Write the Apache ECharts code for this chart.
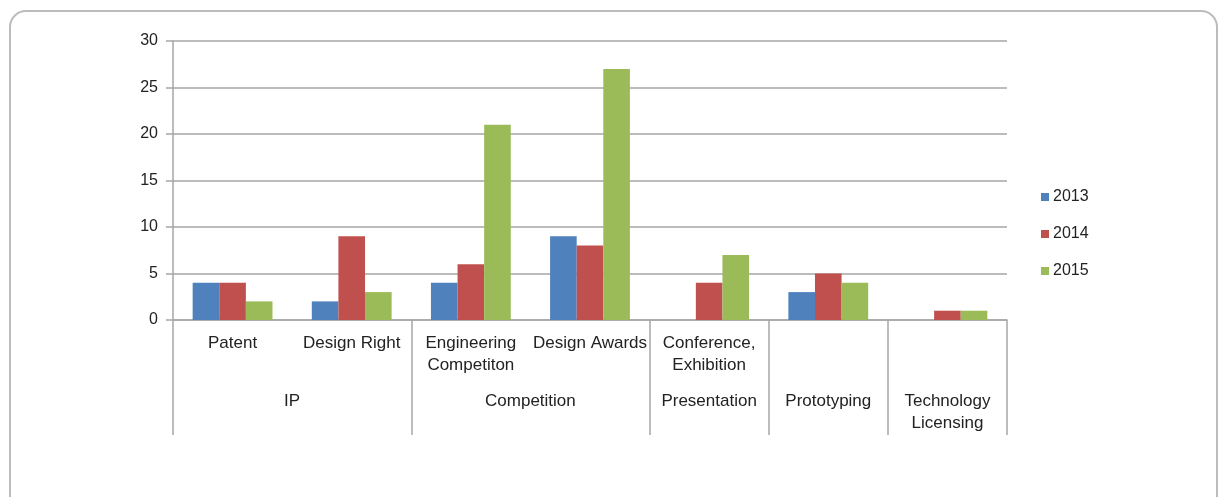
<!DOCTYPE html>
<html>
<head>
<meta charset="utf-8">
<script src="https://cdn.jsdelivr.net/npm/echarts@6/dist/echarts.min.js"></script>
<style>
html, body { margin: 0; padding: 0; background: #fff; }
#main { width: 1219px; height: 497px; }
</style>
</head>
<body>
<div id="main"></div>
<script>
var categories = ['Patent', 'Design Right', 'Engineering\nCompetiton', 'Design Awards',
	'Conference,\nExhibition', 'Prototyping', 'Technology\nLicensing'];
var groupNames = ['IP', 'Competition', 'Presentation', 'Prototyping', 'Technology\nLicensing'];
var groupSpans = [2, 2, 1, 1, 1];
// the last two groups have no sub-label of their own
var shownCategories = ['Patent', 'Design Right', 'Engineering\nCompetiton', 'Design Awards',
	'Conference,\nExhibition', '', ''];
var years = ['2013', '2014', '2015'];
var values2013 = [4, 2, 4, 9, 0, 3, 0];
var values2014 = [4, 9, 6, 8, 4, 5, 1];
var values2015 = [2, 3, 21, 27, 7, 4, 1];
var yTicks = [0, 5, 10, 15, 20, 25, 30];

// half-step slots so group labels land on the middle of their span
var slots = [];
var labelAt = {};
var tickAt = {0: true};
var pos = 0;
for (var g = 0; g < groupNames.length; g++) {
	labelAt[pos + groupSpans[g]] = groupNames[g];
	pos += groupSpans[g] * 2;
	tickAt[pos] = true;
}
for (var s = 0; s <= categories.length * 2; s++) {
	slots.push(labelAt[s] || '');
}

var myChart = echarts.init(document.getElementById('main'));
var textFont = 'Liberation Sans, Arial, sans-serif';
option = {
	backgroundColor: '#fff',
	textStyle: { fontFamily: textFont },
	graphic: [
		{
			type: 'rect',
			shape: { x: 10, y: 11, width: 1207, height: 505, r: 16 },
			style: { fill: 'none', stroke: '#bcbcbc', lineWidth: 2 },
			silent: true
		}
	],
	legend: {
		data: years,
		orient: 'vertical',
		left: 1036,
		top: 184,
		itemWidth: 8,
		itemHeight: 8,
		itemGap: 21,
		icon: 'rect',
		textStyle: { fontSize: 16, color: '#222', fontFamily: textFont, padding: [0, 0, 0, -1] }
	},
	grid: {
		left: 173,
		right: 212,
		top: 41,
		bottom: 177
	},
	xAxis: [
		{
			type: 'category',
			data: categories,
			axisLine: { lineStyle: { color: '#a6a6a6', width: 1.5 } },
			axisTick: { length: 58, interval: 0, lineStyle: { color: '#a6a6a6', width: 1.5 } },
			axisLabel: {
				interval: 0,
				margin: 12,
				fontSize: 17,
				lineHeight: 22,
				color: '#222',
				fontFamily: textFont,
				formatter: function (v, i) { return shownCategories[i]; }
			}
		},
		{
			type: 'category',
			data: slots,
			boundaryGap: false,
			position: 'bottom',
			axisLine: { show: false },
			axisTick: {
				length: 115,
				interval: function (i) { return !!tickAt[i]; },
				lineStyle: { color: '#a6a6a6', width: 1.5 }
			},
			axisLabel: {
				interval: 0,
				margin: 70,
				fontSize: 17,
				lineHeight: 22,
				color: '#222',
				fontFamily: textFont
			}
		}
	],
	yAxis: [
		{
			type: 'value',
			min: yTicks[0],
			max: yTicks[yTicks.length - 1],
			interval: 5,
			axisLine: { show: true, lineStyle: { color: '#a6a6a6', width: 1.5 } },
			axisTick: { show: true, length: 7, lineStyle: { color: '#a6a6a6', width: 1.5 } },
			splitLine: { lineStyle: { color: '#a6a6a6', width: 1.5 } },
			axisLabel: { margin: 15, fontSize: 16, color: '#222', fontFamily: textFont }
		}
	],
	series: [
		{
			name: years[0],
			type: 'bar',
			barGap: '0%',
			barCategoryGap: '33%',
			itemStyle: { color: '#4f81bd' },
			data: values2013
		},
		{
			name: years[1],
			type: 'bar',
			barGap: '0%',
			barCategoryGap: '33%',
			itemStyle: { color: '#c0504d' },
			data: values2014
		},
		{
			name: years[2],
			type: 'bar',
			barGap: '0%',
			barCategoryGap: '33%',
			itemStyle: { color: '#9bbb59' },
			data: values2015
		}
	]
};
myChart.setOption(option);
</script>
</body>
</html>
